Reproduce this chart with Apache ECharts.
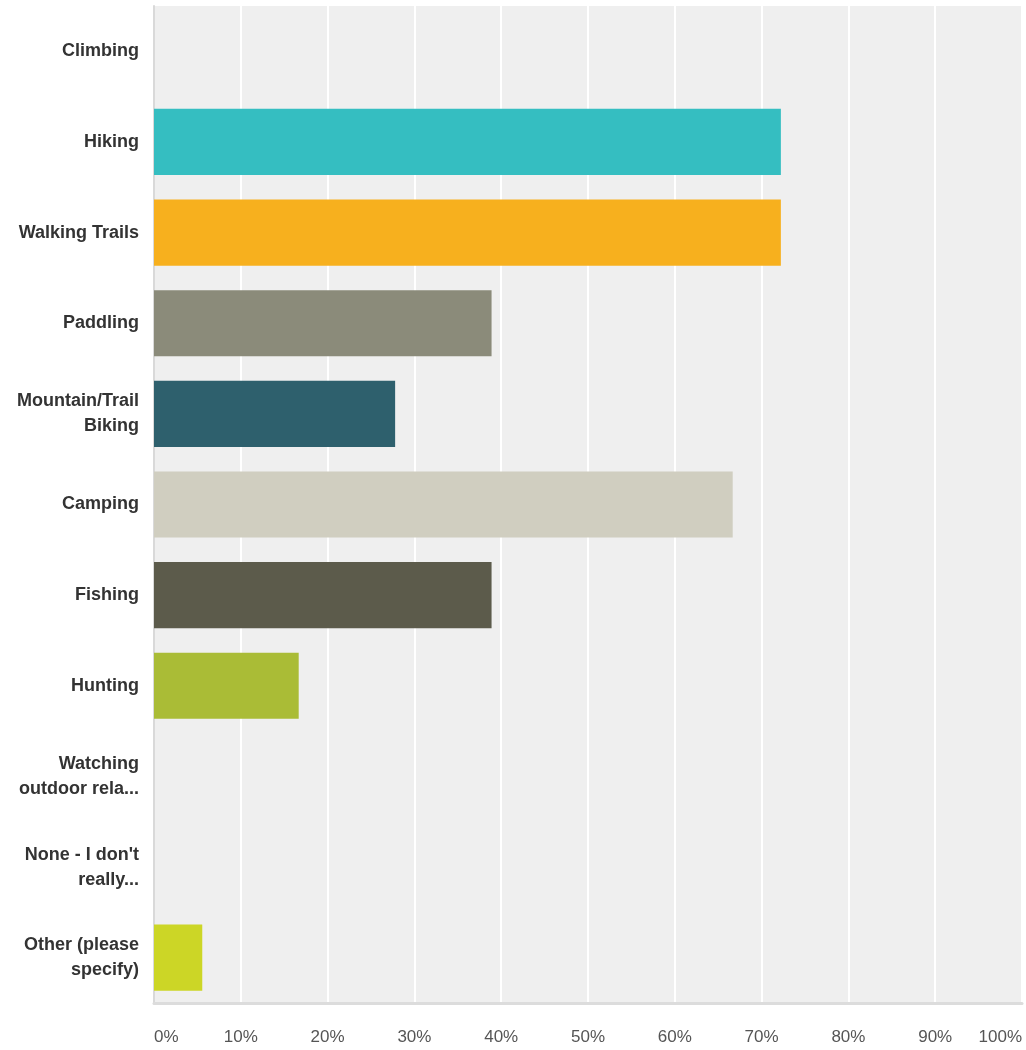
<!DOCTYPE html>
<html>
<head>
<meta charset="utf-8">
<script src="https://cdn.jsdelivr.net/npm/echarts@6/dist/echarts.min.js"></script>
<style>
  html, body { margin: 0; padding: 0; background: #ffffff; }
  #chart { width: 1026px; height: 1050px; }
</style>
</head>
<body>
<div id="chart"></div>
<script>
// Activities chosen by respondents (share of answers, %)
const categories = [
  'Climbing',
  'Hiking',
  'Walking Trails',
  'Paddling',
  'Mountain/Trail\nBiking',
  'Camping',
  'Fishing',
  'Hunting',
  'Watching\noutdoor rela...',
  "None - I don't\nreally...",
  'Other (please\nspecify)'
];
const percentages = [0, 72.22, 72.22, 38.89, 27.78, 66.67, 38.89, 16.67, 0, 0, 5.56];
const barColors = ['#35bec1', '#35bec1', '#f7b01e', '#8b8b7a', '#2e606d', '#d0cec0', '#5c5b4b', '#aabc36', '#aabc36', '#aabc36', '#ccd626'];
const tickValues = [0, 10, 20, 30, 40, 50, 60, 70, 80, 90, 100];

const chart = echarts.init(document.getElementById('chart'));

chart.setOption({
  animation: false,
  grid: {
    left: 154,
    top: 6,
    width: 868,
    height: 997,
    show: true,
    backgroundColor: '#efefef',
    borderWidth: 0,
    containLabel: false
  },
  xAxis: {
    type: 'value',
    min: tickValues[0],
    max: tickValues[tickValues.length - 1],
    interval: 10,
    axisLine: { show: true, lineStyle: { color: '#dcdcdc', width: 3 } },
    axisTick: { show: false },
    splitLine: { show: true, lineStyle: { color: '#ffffff', width: 2 } },
    axisLabel: {
      formatter: '{value}%',
      color: '#555555',
      fontFamily: 'Liberation Sans, Arial, sans-serif',
      fontSize: 17,
      margin: 26,
      alignMinLabel: 'left',
      alignMaxLabel: 'right'
    }
  },
  yAxis: {
    type: 'category',
    inverse: true,
    data: categories,
    axisLine: { show: true, lineStyle: { color: '#d9d9d9', width: 2 } },
    axisTick: { show: false },
    splitLine: { show: false },
    axisLabel: {
      color: '#333333',
      fontFamily: 'Liberation Sans, Arial, sans-serif',
      fontWeight: 'bold',
      fontSize: 18,
      lineHeight: 25,
      margin: 15,
      align: 'right'
    }
  },
  series: [{
    type: 'bar',
    data: percentages.map((v, i) => ({ value: v, itemStyle: { color: barColors[i] } })),
    barCategoryGap: '27%',
    silent: true
  }]
});
</script>
</body>
</html>
